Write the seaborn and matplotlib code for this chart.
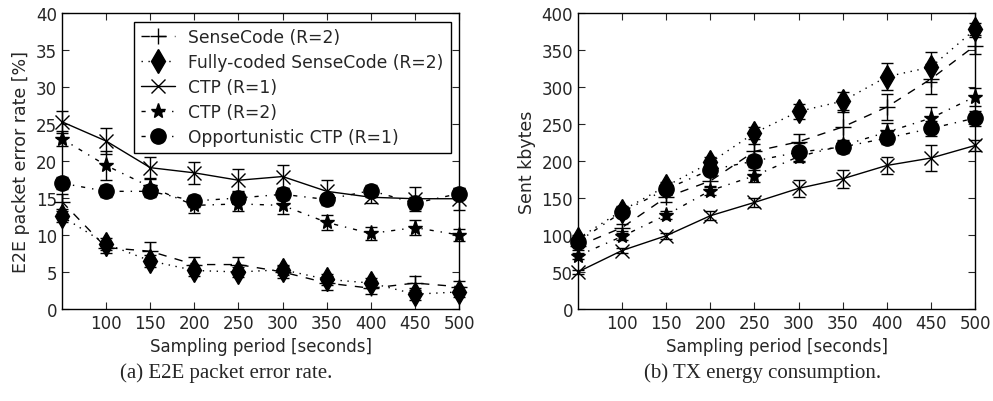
import numpy as np
import pandas as pd
import matplotlib
matplotlib.use('Agg')
import matplotlib.pyplot as plt
import seaborn as sns

# sampling periods [seconds]
periods = [50, 100, 150, 200, 250, 300, 350, 400, 450, 500]

labels = ['SenseCode (R=2)', 'Fully-coded SenseCode (R=2)', 'CTP (R=1)',
          'CTP (R=2)', 'Opportunistic CTP (R=1)']

# (a) E2E packet error rate [%]
per_sensecode = [14.5, 8.3, 7.8, 6.0, 6.0, 5.0, 3.5, 2.8, 3.5, 3.0]
per_sensecode_err = [1.0, 0.8, 1.2, 1.0, 1.0, 0.8, 1.0, 0.8, 1.0, 0.8]
per_fully = [12.5, 8.8, 6.5, 5.2, 5.0, 5.3, 4.0, 3.5, 2.0, 2.3]
per_fully_err = [0.8, 0.8, 0.8, 0.7, 0.7, 0.7, 0.7, 0.7, 0.8, 0.7]
per_ctp1 = [25.3, 22.7, 19.1, 18.4, 17.4, 17.9, 15.9, 15.1, 14.9, 14.9]
per_ctp1_err = [1.5, 1.8, 1.5, 1.5, 1.5, 1.5, 1.5, 0.8, 1.6, 1.5]
per_ctp2 = [23.0, 19.4, 16.5, 14.0, 14.2, 14.0, 11.7, 10.2, 11.0, 10.0]
per_ctp2_err = [1.0, 2.0, 1.2, 1.0, 1.0, 1.2, 1.0, 0.9, 1.0, 0.8]
per_opp = [17.0, 15.9, 15.9, 14.6, 15.0, 15.5, 14.8, 16.0, 14.3, 15.6]
per_opp_err = [0.8, 0.8, 0.8, 0.8, 0.8, 0.8, 0.8, 0.8, 0.8, 0.8]

# (b) Sent kbytes
tx_sensecode = [85, 110, 151, 173, 213, 226, 246, 273, 311, 356]
tx_sensecode_err = [5, 5, 6, 8, 10, 10, 20, 18, 20, 12]
tx_fully = [95, 133, 166, 198, 238, 267, 281, 314, 327, 378]
tx_fully_err = [5, 6, 6, 7, 8, 10, 12, 18, 20, 8]
tx_ctp1 = [50, 79, 99, 126, 144, 163, 176, 194, 204, 221]
tx_ctp1_err = [3, 4, 4, 6, 6, 11, 12, 12, 17, 8]
tx_ctp2 = [72, 98, 127, 160, 180, 206, 221, 239, 258, 287]
tx_ctp2_err = [4, 5, 5, 6, 8, 8, 8, 12, 15, 12]
tx_opp = [91, 131, 162, 188, 200, 212, 219, 231, 244, 258]
tx_opp_err = [4, 5, 5, 6, 8, 12, 8, 8, 10, 10]

styles = [
    dict(marker='+', ms=11, ls=(0, (6, 6))),
    dict(marker='d', ms=12, ls=(0, (1, 4))),
    dict(marker='x', ms=10, ls='-'),
    dict(marker='*', ms=11, ls=(0, (3, 5, 1, 5))),
    dict(marker='o', ms=11, ls=(0, (3, 5, 1, 5))),
]

sns.set_style('ticks')
plt.rcParams['font.family'] = ['DejaVu Sans']
plt.rcParams['xtick.direction'] = 'in'
plt.rcParams['ytick.direction'] = 'in'
plt.rcParams['xtick.top'] = True
plt.rcParams['ytick.right'] = True
plt.rcParams['xtick.major.size'] = 5
plt.rcParams['ytick.major.size'] = 5

fig = plt.figure(figsize=(9.93, 4.02), dpi=100)
ax1 = fig.add_axes([0.0624, 0.229, 0.400, 0.736])
ax2 = fig.add_axes([0.582, 0.229, 0.400, 0.736])


def draw(ax, ys, errs):
    for lab, y, e, st in zip(labels, ys, errs, styles):
        df = pd.DataFrame({'x': periods, 'y': y})
        sns.lineplot(data=df, x='x', y='y', ax=ax, color='k', lw=1.0,
                     linestyle=st['ls'], marker=st['marker'], markersize=st['ms'],
                     markeredgecolor='k', markerfacecolor='k', markeredgewidth=1.0,
                     label=lab, legend=False, clip_on=False)
        ax.errorbar(periods, y, yerr=e, fmt='none', ecolor='k', elinewidth=1.0,
                    capsize=4, capthick=1.0, clip_on=False)
    ax.set_xlim(50, 500)
    ax.set_xticks(range(100, 501, 50))
    ax.set_xlabel('Sampling period [seconds]', fontsize=12)
    ax.tick_params(labelsize=12)
    for s in ax.spines.values():
        s.set_linewidth(1.0)
        s.set_color('k')


draw(ax1, [per_sensecode, per_fully, per_ctp1, per_ctp2, per_opp],
     [per_sensecode_err, per_fully_err, per_ctp1_err, per_ctp2_err, per_opp_err])
ax1.set_ylim(0, 40)
ax1.set_yticks(range(0, 41, 5))
ax1.set_ylabel('E2E packet error rate [%]', fontsize=12.5)
leg = ax1.legend(loc='upper right', fontsize=12.3, frameon=True, fancybox=False,
                 edgecolor='k', framealpha=1, borderpad=0.4, labelspacing=0.4,
                 handlelength=2.0, handletextpad=0.8, numpoints=1,
                 borderaxespad=0.5)
leg.get_frame().set_linewidth(1.0)

draw(ax2, [tx_sensecode, tx_fully, tx_ctp1, tx_ctp2, tx_opp],
     [tx_sensecode_err, tx_fully_err, tx_ctp1_err, tx_ctp2_err, tx_opp_err])
ax2.set_ylim(0, 400)
ax2.set_yticks(range(0, 401, 50))
ax2.set_ylabel('Sent kbytes', fontsize=12.5)

fig.text(0.228, 0.072, '(a) E2E packet error rate.', ha='center', va='center',
         fontsize=15, family='Liberation Serif')
fig.text(0.768, 0.072, '(b) TX energy consumption.', ha='center', va='center',
         fontsize=15, family='Liberation Serif')

fig.savefig('out.png', dpi=100)
